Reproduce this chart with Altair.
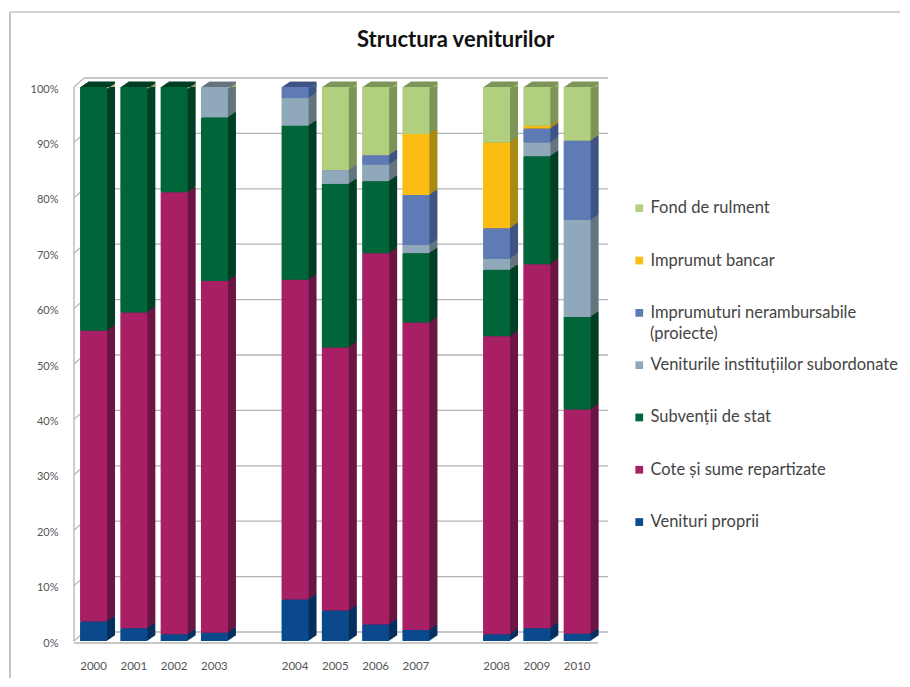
import altair as alt
import pandas as pd

years = ["2000", "2001", "2002", "2003", " ", "2004", "2005", "2006", "2007", "  ", "2008", "2009", "2010"]
bar_years = ["2000", "2001", "2002", "2003", "2004", "2005", "2006", "2007", "2008", "2009", "2010"]

series = ["Venituri proprii", "Cote și sume repartizate", "Subvenții de stat",
          "Veniturile instituțiilor subordonate", "Imprumuturi nerambursabile (proiecte)",
          "Imprumut bancar", "Fond de rulment"]

venituri_proprii = [3.5, 2.3, 1.2, 1.5, 7.5, 5.5, 3.0, 2.0, 1.2, 2.3, 1.3]
cote_sume = [52.5, 57.0, 79.8, 63.5, 57.7, 47.5, 67.0, 55.5, 53.8, 65.7, 40.5]
subventii = [44.0, 40.7, 19.0, 29.5, 27.8, 29.5, 13.0, 12.5, 12.0, 19.5, 16.7]
institutii = [0, 0, 0, 5.5, 5.0, 2.5, 3.0, 1.5, 2.0, 2.5, 17.5]
nerambursabile = [0, 0, 0, 0, 2.0, 0, 1.7, 9.0, 5.5, 2.5, 14.3]
bancar = [0, 0, 0, 0, 0, 0, 0, 11.0, 15.5, 0.5, 0]
fond = [0, 0, 0, 0, 0, 15.0, 12.3, 8.5, 10.0, 7.0, 9.7]
values = [venituri_proprii, cote_sume, subventii, institutii, nerambursabile, bancar, fond]

front_colors = ["#0a4a8c", "#a81f65", "#00663a", "#8fa8ba", "#5f7bb5", "#fbbd12", "#b1cf7e"]
side_colors = ["#06315f", "#6b1644", "#003f24", "#64747f", "#3f5484", "#a88a16", "#7d9558"]

top_series = ["Imprumut bancar"] * 3 + ["Fond de rulment", "Imprumuturi nerambursabile (proiecte)"] + ["Fond de rulment"] * 6
cap_colors = ["#4a6a9e", "#c7bb84", "#9fb56a"]
cap_domain = ["Imprumuturi nerambursabile (proiecte)", "Imprumut bancar", "Fond de rulment"]

pct_ticks = list(range(0, 101, 10))

rows = []
for k, name in enumerate(series):
    for j, yr in enumerate(bar_years):
        rows.append({"year": yr, "series": name, "idx": k, "v": values[k][j]})
df = pd.DataFrame(rows)
df = df[df.v > 0]
cap_df = pd.DataFrame({"year": bar_years, "cap": top_series, "y1": [99.6] * 11, "y2": [100.0] * 11})
grid_df = pd.DataFrame({"pct": pct_ticks, "pct2": [p + 1.6 for p in pct_ticks]})
wall_df = pd.DataFrame({"a": [0], "b": [100]})

W, H = 890, 666
GRID = "#b4b4b4"
FRAME = "#c4c4c4"
FONT = "Lato"
DEPTH = 8
RISE = 0.68

x_scale = alt.Scale(domain=years, range=[63.4, 587.3], paddingInner=0, paddingOuter=0)
y_scale = alt.Scale(domain=[0, 100], range=[629, 75], nice=False)
x_axis = alt.Axis(offset=-20, domain=False, ticks=False, labelAngle=0, labelFont=FONT, labelFontSize=11.5,
                  labelColor="#555555", labelPadding=2, values=bar_years, title=None, grid=False)
y_axis = alt.Axis(offset=-50, domain=False, ticks=False, grid=False, values=pct_ticks,
                  labelExpr="datum.value + '%'", labelFont=FONT, labelFontSize=11,
                  labelColor="#555555", labelPadding=2, labelOffset=2, title=None)

X = alt.X("year:N", scale=x_scale, axis=x_axis)
leg_domain = series[::-1]
color_front = alt.Scale(domain=leg_domain, range=front_colors[::-1])
color_side = alt.Scale(domain=leg_domain, range=side_colors[::-1])


def Y(field, **kw):
    return alt.Y(field, scale=y_scale, axis=y_axis, **kw)


layers = []

# outer frame: top and left edges only
layers.append(alt.Chart(wall_df).mark_rule(color=FRAME, strokeWidth=1.5).encode(
    x=alt.value(0), x2=alt.value(W), y=alt.value(0)))
layers.append(alt.Chart(wall_df).mark_rule(color=FRAME, strokeWidth=2).encode(
    x=alt.value(0), y=alt.value(0), y2=alt.value(H)))

# back wall grid
layers.append(alt.Chart(grid_df).mark_rule(color=GRID, strokeWidth=1.3, yOffset=-9).encode(
    x=alt.value(74), x2=alt.value(598), y=Y("pct:Q")))
# side wall slants
layers.append(alt.Chart(grid_df).mark_rule(color=GRID, strokeWidth=1.2).encode(
    x=alt.value(64), x2=alt.value(74), y=Y("pct:Q"), y2="pct2:Q"))
# wall verticals and floor front
layers.append(alt.Chart(wall_df).mark_rule(color=GRID, strokeWidth=1.3).encode(
    x=alt.value(64), y=Y("a:Q"), y2="b:Q"))
layers.append(alt.Chart(wall_df).mark_rule(color=GRID, strokeWidth=1.3, yOffset=-9).encode(
    x=alt.value(74), y=Y("a:Q"), y2="b:Q"))
layers.append(alt.Chart(wall_df).mark_rule(color=GRID, strokeWidth=1.5, yOffset=2).encode(
    x=alt.value(64), x2=alt.value(588), y=Y("a:Q")))

# depth of the bars
for d in range(DEPTH, 0, -1):
    layers.append(alt.Chart(df).mark_bar(size=27, xOffset=d, yOffset=-d * RISE).encode(
        x=X, y=Y("v:Q", stack="zero"),
        color=alt.Color("series:N", scale=color_side, legend=None),
        order=alt.Order("idx:Q")))
    layers.append(alt.Chart(cap_df).mark_bar(size=27, xOffset=d, yOffset=-d * RISE).encode(
        x=X, y=Y("y1:Q"), y2="y2:Q",
        color=alt.Color("cap:N", scale=alt.Scale(domain=cap_domain, range=cap_colors), legend=None)))

# front faces and legend
layers.append(alt.Chart(df).mark_bar(size=27).encode(
    x=X, y=Y("v:Q", stack="zero"),
    color=alt.Color("series:N", scale=color_front, title=None,
                    legend=alt.Legend(orient="none", legendX=621, legendY=188, symbolType="square",
                                      symbolSize=60, symbolStrokeWidth=0, labelFont=FONT, labelFontSize=16.5,
                                      labelColor="#444444", rowPadding=35.3, labelLimit=300, labelOffset=3,
                                      labelExpr="datum.label == 'Imprumuturi nerambursabile (proiecte)' ? 'Imprumuturi nerambursabile' : datum.label")),
    order=alt.Order("idx:Q")))

# second line of the wrapped legend entry
layers.append(alt.Chart(pd.DataFrame({"t": ["(proiecte)"]})).mark_text(
    align="left", baseline="middle", font=FONT, fontSize=16.5, color="#444444").encode(
    x=alt.value(640), y=alt.value(322), text="t:N"))

chart = alt.layer(*layers).resolve_scale(color="independent").properties(
    width=W, height=H,
    padding={"left": 2, "top": 4, "right": 0, "bottom": 0},
    autosize=alt.AutoSizeParams(type="none"),
    title=alt.TitleParams("Structura veniturilor", font=FONT, fontSize=22, fontWeight="bold", color="#111111",
                          anchor="start", offset=-41, dx=348),
).configure_view(stroke=None)

chart.save("out.html", embed_options={"renderer": "svg", "actions": False})
